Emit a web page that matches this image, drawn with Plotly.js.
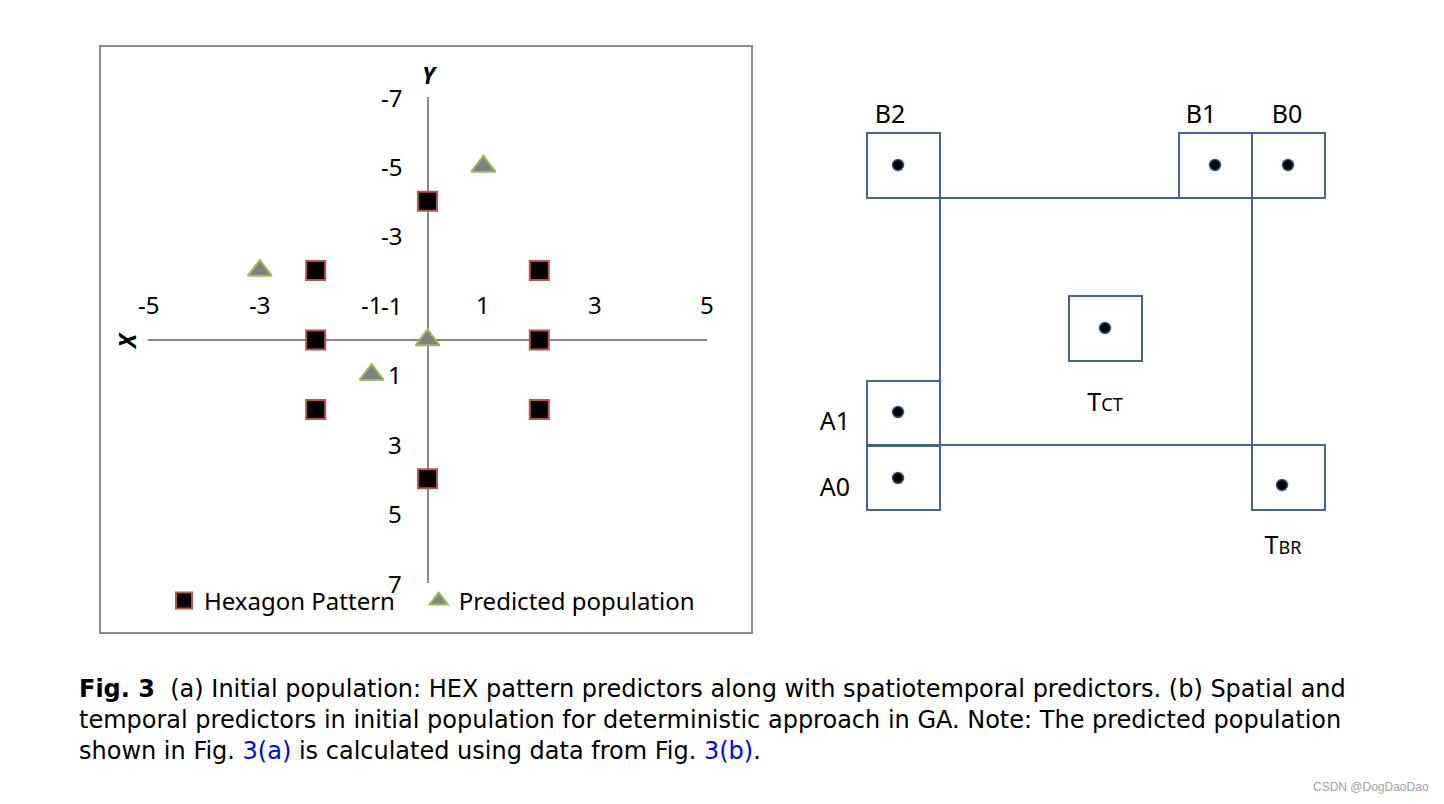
<!DOCTYPE html>
<html>
<head>
<meta charset="utf-8">
<script src="https://cdn.plot.ly/plotly-3.0.1.min.js"></script>
<style>html,body{margin:0;padding:0;background:#fff;}#chart{width:1444px;height:804px;}</style>
</head>
<body>
<div id="chart"></div>
<script>
// ---- Panel (a) data ----
const hexX = [0, -2, 2, -2, 2, -2, 2, 0];
const hexY = [-4, -2, -2, 0, 0, 2, 2, 4];
const predX = [1, -3, 0, -1];
const predY = [-5, -2, 0, 1];
const xTicks = [-5, -3, -1, 1, 3, 5];
const yTicks = [-7, -5, -3, -1, 1, 3, 5, 7];
const seriesNames = ['Hexagon Pattern', 'Predicted population'];

// ---- Panel (b) diagram data (units relative to current block top-left) ----
const boxNames = ['B2', 'B1', 'B0', 'A1', 'A0', 'TCT', 'TBR'];
const boxLabels = ['B2', 'B1', 'B0', 'A1', 'A0',
  'T<span style="font-size:18px">CT</span>', 'T<span style="font-size:18px">BR</span>'];
const boxLeft = [-73, 239, 312, -73, -73, 129, 312];
const boxTop = [-65, -65, -65, 183, 247, 98, 247];
const dotX = [-42, 275, 348, -42, -42, 165, 342];
const dotY = [-33, -33, -33, 214, 280, 130, 287];
const labelX = [-50, 261, 347, -105, -105, 165, 343];
const labelY = [-81, -81, -81, 226, 292, 207, 350];
const blockW = 312, blockH = 247;
const boxW = 73, boxH = 65;

const W = 1444, H = 804;
const px = v => v / W;
const py = v => 1 - v / H;

const calib = 'Noto Sans, Open Sans, sans-serif';
const axisGray = '#878787';
const panelFont = 24;

const traces = [
  {
    type: 'scatter', mode: 'markers', name: seriesNames[0] + '\u00a0\u00a0\u00a0',
    x: hexX, y: hexY, xaxis: 'x', yaxis: 'y',
    marker: { symbol: 'square', size: 19, color: '#000000', line: { color: '#c0504d', width: 2 } },
    hoverinfo: 'skip'
  },
  {
    type: 'scatter', mode: 'markers', name: seriesNames[1],
    x: predX, y: predY, xaxis: 'x', yaxis: 'y',
    marker: { symbol: 'triangle-up', size: 21, color: '#808080', line: { color: '#9bbb59', width: 2 } },
    hoverinfo: 'skip'
  },
  {
    type: 'scatter', mode: 'markers', showlegend: false,
    x: dotX, y: dotY, xaxis: 'x2', yaxis: 'y2',
    marker: { symbol: 'circle', size: 11, color: '#000000', line: { color: '#3a5580', width: 1.5 } },
    hoverinfo: 'skip'
  },
  {
    type: 'scatter', mode: 'text', showlegend: false,
    x: labelX, y: labelY, xaxis: 'x2', yaxis: 'y2',
    text: boxLabels, textposition: 'middle center',
    textfont: { family: calib, size: 25, color: '#000000' },
    hoverinfo: 'skip'
  }
];

const shapes = [];
// panel (a) frame
shapes.push({ type: 'rect', xref: 'paper', yref: 'paper', x0: px(100), x1: px(752), y0: py(633), y1: py(46),
  line: { color: '#8c8c8c', width: 2 }, fillcolor: 'rgba(0,0,0,0)', layer: 'below' });
// block rectangle
shapes.push({ type: 'rect', xref: 'x2', yref: 'y2', x0: 0, x1: blockW, y0: 0, y1: blockH,
  line: { color: '#4a6291', width: 2 } });
for (let i = 0; i < boxNames.length; i++) {
  shapes.push({ type: 'rect', xref: 'x2', yref: 'y2',
    x0: boxLeft[i], x1: boxLeft[i] + boxW, y0: boxTop[i], y1: boxTop[i] + boxH,
    line: { color: '#4a6291', width: 2 } });
}

const annotations = [];
xTicks.forEach(t => annotations.push({ x: t, y: 0, xref: 'x', yref: 'y', text: String(t), showarrow: false,
  xanchor: 'center', yanchor: 'middle', yshift: 36, font: { family: calib, size: panelFont, color: '#000' } }));
yTicks.forEach(t => annotations.push({ x: 0, y: t, xref: 'x', yref: 'y', text: String(t), showarrow: false,
  xanchor: 'right', yanchor: 'middle', xshift: -24, font: { family: calib, size: panelFont, color: '#000' } }));
// axis titles
annotations.push({ x: px(430), y: py(75), xref: 'paper', yref: 'paper', text: '<b><i>Y</i></b>', showarrow: false,
  xanchor: 'center', yanchor: 'middle', font: { family: calib, size: 23, color: '#000' } });
annotations.push({ x: px(127), y: py(341), xref: 'paper', yref: 'paper', text: '<b><i>X</i></b>', showarrow: false,
  xanchor: 'center', yanchor: 'middle', textangle: -90, font: { family: calib, size: 23, color: '#000' } });
// caption
const capFont = { family: 'DejaVu Sans, Liberation Sans, sans-serif', size: 24, color: '#000' };
const capLines = [
  '<b>Fig. 3</b>\u00a0\u00a0(a) Initial population: HEX pattern predictors along with spatiotemporal predictors. (b) Spatial and',
  'temporal predictors in initial population for deterministic approach in GA. Note: The predicted population',
  'shown in Fig. <span style="color:#0000ff">3(a)</span> is calculated using data from Fig. <span style="color:#0000ff">3(b)</span>.'
];
const capY = [689, 720, 751];
capLines.forEach((t, i) => annotations.push({ x: px(77), y: py(capY[i]), xref: 'paper', yref: 'paper', text: t,
  showarrow: false, xanchor: 'left', yanchor: 'middle', font: capFont }));
// watermark
annotations.push({ x: px(1431), y: py(787), xref: 'paper', yref: 'paper', text: 'CSDN @DogDaoDao', showarrow: false,
  xanchor: 'right', yanchor: 'middle', font: { family: 'Liberation Sans, Arial, sans-serif', size: 12, color: '#a0a0a0' } });

const layout = {
  width: W, height: H,
  margin: { l: 0, r: 0, t: 0, b: 0 },
  paper_bgcolor: '#ffffff', plot_bgcolor: 'rgba(0,0,0,0)',
  showlegend: true,
  legend: {
    orientation: 'h', x: px(164), y: py(601), xanchor: 'left', yanchor: 'middle',
    font: { family: calib, size: panelFont, color: '#000' }, bgcolor: 'rgba(0,0,0,0)',
    itemclick: false, itemdoubleclick: false
  },
  xaxis: {
    domain: [px(148), px(707)], range: [-5, 5], showgrid: false, showticklabels: false, ticks: '',
    zeroline: true, zerolinecolor: axisGray, zerolinewidth: 2, showline: false, fixedrange: true
  },
  yaxis: {
    domain: [py(583), py(97)], range: [7, -7], showgrid: false, showticklabels: false, ticks: '',
    zeroline: true, zerolinecolor: axisGray, zerolinewidth: 2, showline: false, fixedrange: true
  },
  xaxis2: {
    domain: [px(800), px(1400)], range: [800 - 940, 1400 - 940], visible: false, fixedrange: true
  },
  yaxis2: {
    domain: [py(570), py(90)], range: [570 - 198, 90 - 198], visible: false, fixedrange: true
  },
  shapes: shapes,
  annotations: annotations
};

Plotly.newPlot('chart', traces, layout, { staticPlot: true, displayModeBar: false });
</script>
</body>
</html>
